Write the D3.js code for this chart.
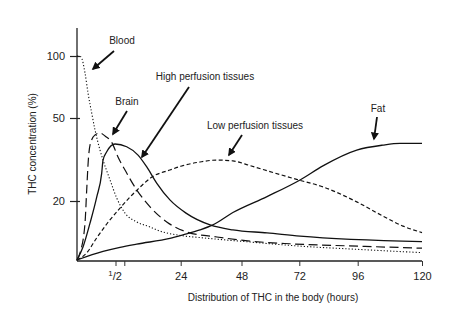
<!DOCTYPE html>
<html>
<head>
<meta charset="utf-8">
<script src="https://cdn.jsdelivr.net/npm/d3@7/dist/d3.min.js"></script>
<style>
  html, body { margin: 0; padding: 0; background: #fff; }
  svg { display: block; }
  text { font-family: "Liberation Sans", Arial, Helvetica, sans-serif; fill: #222; }
</style>
</head>
<body>
<svg id="chart" width="475" height="328"></svg>
<script>
// Time (hours) on the x axis; the first hour is drawn stretched out.
const xTicks = [0.5, 1, 24, 48, 72, 96, 120];
const xTickLabels = ["1/2", "", "24", "48", "72", "96", "120"];
const yTicks = [20, 50, 100];

// THC concentration (%) in each compartment, as [hours, percent] pairs.
const blood = [[0, 100], [0.05, 99.4], [0.104, 86.3], [0.143, 70.2], [0.191, 54], [0.234, 45.7],
  [0.299, 38.4], [0.338, 34.8], [0.429, 27.6], [0.568, 21.1], [1.3, 15.9], [6.06, 12.9],
  [11.5, 11.2], [14.2, 10.2], [24.9, 8.2], [31.6, 7.6], [51.5, 6.1], [72.3, 4.7], [96, 3.6], [120, 2.5]];
const brain = [[0, 0], [0.039, 2.4], [0.104, 12.5], [0.126, 24], [0.147, 34.8], [0.169, 40.2],
  [0.234, 43.9], [0.299, 44.6], [0.364, 43.5], [0.455, 41], [0.642, 35.9], [1.29, 31.2],
  [6.06, 24], [11.5, 18], [18.3, 12.9], [26.4, 9.5], [38.3, 7.8], [51.5, 6.4], [68, 5.5],
  [96, 4.7], [120, 4.0]];
const highPerfusion = [[0, 0], [0.078, 4.4], [0.169, 12.5], [0.256, 21.4], [0.321, 30.1],
  [0.338, 34.8], [0.386, 37.8], [0.494, 40.6], [1.98, 39.6], [6.6, 36.6], [10.1, 32.4],
  [14.2, 26.5], [19.6, 20.4], [26.1, 15.9], [35.6, 11.9], [44.6, 10.2], [58.6, 9.2],
  [72.3, 8.1], [120, 6.2]];
const lowPerfusion = [[0, 0], [0.126, 2.4], [0.256, 7.5], [0.386, 12.2], [0.756, 17.6], [3.3, 21.4],
  [6.6, 24.3], [12.3, 28.7], [19.6, 31.2], [24.9, 32.8], [31.6, 34.1], [38.2, 34.8],
  [44.6, 34.5], [51.5, 32.8], [61.1, 30.3], [70.9, 27.8], [81.7, 25.1], [95.6, 19.7],
  [105.4, 14.9], [112.9, 11.5], [120, 9.3]];
const fat = [[0, 0], [0.338, 2.9], [0.756, 4.3], [6.06, 5.4], [19.6, 7.3], [24.9, 8.5], [31.6, 10.2],
  [36.7, 11.9], [44.6, 16.1], [58.6, 21.6], [72.3, 27.6], [81.7, 32.7], [95.6, 38.4],
  [105.4, 40.2], [111.8, 40.8], [120, 40.8]];

const seriesNames = ["Blood", "Brain", "High perfusion tissues", "Low perfusion tissues", "Fat"];

const svg = d3.select("#chart");

// Piecewise scales: both axes are schematic, not strictly linear.
const x = d3.scaleLinear()
  .domain([0, 0.5, 1, 24, 48, 72, 96, 120])
  .range([77, 115.5, 124.3, 180.7, 241.5, 299.3, 357.7, 422]);
const y = d3.scaleLinear()
  .domain([0, 20, 50, 100])
  .range([260, 201, 118, 56]);

const axisY = 261;

// x axis
const xAxis = svg.append("g")
  .attr("transform", `translate(0,${axisY})`)
  .call(d3.axisBottom(x).tickValues(xTicks).tickSize(5).tickFormat(() => ""));
xAxis.select(".domain").attr("d", `M${x(0)},0H${x(120)}`).attr("stroke", "#222").attr("stroke-width", 1.3);
xAxis.selectAll(".tick line").attr("stroke", "#333").attr("stroke-width", 1);

xAxis.selectAll(".tick").each(function (d, i) {
  const label = xTickLabels[i];
  if (!label) return;
  const t = d3.select(this).append("text")
    .attr("y", 19)
    .attr("text-anchor", "middle")
    .attr("font-size", 11)
    .style("fill", "#222");
  if (label === "1/2") {
    t.attr("x", -1);
    t.append("tspan").attr("font-size", 8).attr("dy", -4).text("1");
    t.append("tspan").attr("dy", 4).text("/2");
  } else {
    t.text(label);
  }
});

// y axis
const yAxis = svg.append("g")
  .attr("transform", `translate(${x(0)},0)`)
  .call(d3.axisLeft(y).tickValues(yTicks).tickSize(7).tickPadding(5));
yAxis.select(".domain").attr("d", `M0,28V${axisY}`).attr("stroke", "#222").attr("stroke-width", 1.3);
yAxis.selectAll(".tick line").attr("x1", 3).attr("x2", -7).attr("stroke", "#222").attr("stroke-width", 1.2);
yAxis.selectAll(".tick text").attr("font-size", 11).style("fill", "#222")
  .attr("font-family", "'Liberation Sans', Arial, sans-serif");

// axis titles
svg.append("text")
  .attr("transform", `translate(36,144) rotate(-90)`)
  .attr("text-anchor", "middle")
  .attr("font-size", 10)
  .text("THC concentration (%)");
svg.append("text")
  .attr("x", 273).attr("y", 301)
  .attr("text-anchor", "middle")
  .attr("font-size", 10)
  .text("Distribution of THC in the body (hours)");

// curves
const line = d3.line()
  .x(d => x(d[0]))
  .y(d => y(d[1]))
  .curve(d3.curveMonotoneX);

const curves = [
  { data: blood, dash: "1.2,2", width: 1.1 },
  { data: brain, dash: "9,4.5", width: 1.2 },
  { data: highPerfusion, dash: null, width: 1.3 },
  { data: lowPerfusion, dash: "4,2.5", width: 1.2 },
  { data: fat, dash: null, width: 1.3 }
];

svg.append("g").selectAll("path")
  .data(curves)
  .join("path")
  .attr("d", d => line(d.data))
  .attr("fill", "none")
  .attr("stroke", "#111")
  .attr("stroke-width", d => d.width)
  .attr("stroke-dasharray", d => d.dash);

// annotation labels with arrows
svg.append("defs").append("marker")
  .attr("id", "head")
  .attr("viewBox", "0 0 10 10")
  .attr("refX", 8).attr("refY", 5)
  .attr("markerWidth", 4.5).attr("markerHeight", 4.5)
  .attr("markerUnits", "strokeWidth")
  .attr("orient", "auto")
  .append("path")
  .attr("d", "M0,0L10,5L0,10Z")
  .attr("fill", "#111");

const notes = [
  { text: seriesNames[0], tx: 122, ty: 44, x1: 114, y1: 51, x2: 93, y2: 69 },
  { text: seriesNames[1], tx: 127, ty: 105, x1: 127, y1: 111, x2: 113, y2: 134 },
  { text: seriesNames[2], tx: 205, ty: 80, x1: 189, y1: 87, x2: 142, y2: 157 },
  { text: seriesNames[3], tx: 255, ty: 129, x1: 242, y1: 135, x2: 229, y2: 155 },
  { text: seriesNames[4], tx: 378, ty: 112, x1: 377, y1: 117, x2: 374, y2: 139 }
];

const g = svg.append("g");
g.selectAll("text")
  .data(notes)
  .join("text")
  .attr("x", d => d.tx).attr("y", d => d.ty)
  .attr("text-anchor", "middle")
  .attr("font-size", 10)
  .text(d => d.text);
g.selectAll("line")
  .data(notes)
  .join("line")
  .attr("x1", d => d.x1).attr("y1", d => d.y1)
  .attr("x2", d => d.x2).attr("y2", d => d.y2)
  .attr("stroke", "#111")
  .attr("stroke-width", 1.8)
  .attr("marker-end", "url(#head)");
</script>
</body>
</html>
